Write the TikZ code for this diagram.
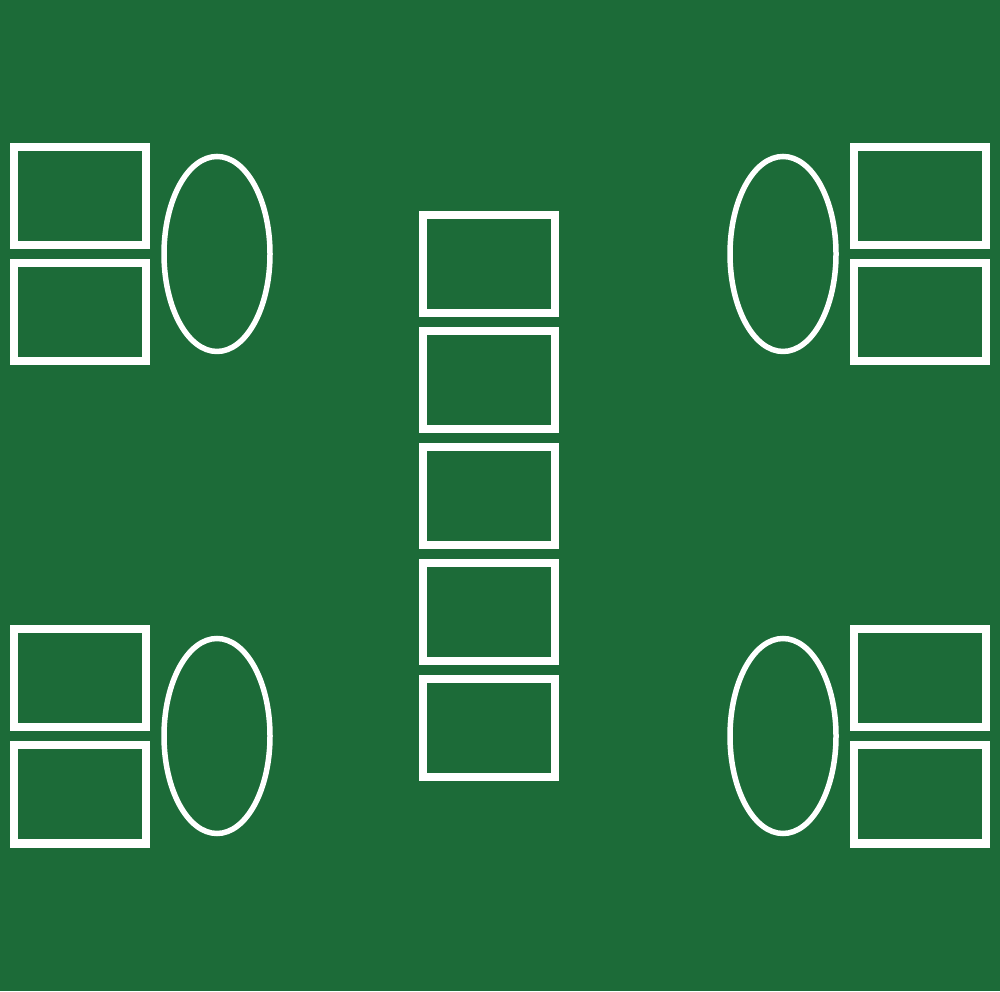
\documentclass[tikz,border=0pt]{standalone}
\usetikzlibrary{shapes}
\definecolor{felt}{RGB}{28,107,56}

\begin{document}
\begin{tikzpicture} [node distance=1.16cm, card/.style={rectangle, draw=white, line width=0.08cm, minimum width=1.32cm, minimum height=0.985cm, inner sep=0pt}, chip/.style={ellipse, draw=white, line width=0.055cm, minimum width=1.06cm, minimum height=1.95cm, inner sep=0pt}]
  \fill [felt] (0,0) rectangle (10,9.91);
  \useasboundingbox (0,0) rectangle (10,9.91);
  % Board cards
  \node [card] (flop1) at (4.89,7.2675) {};
  \node [card, below of=flop1] (flop2) {};
  \node [card, below of=flop2] (flop3) {};
  \node [card, below of=flop3] (turn) {};
  \node [card, below of=turn] (river) {};
  % Top left player
  \node [card] (tlcard1) at (0.80,7.9475) {};
  \node [card, below of=tlcard1] (tlcard2) {};
  \node [chip] (tlchip) at (2.17,7.37) {};
  % Bottom left player
  \node [card] (blcard1) at (0.80,3.1275) {};
  \node [card, below of=blcard1] (blcard2) {};
  \node [chip] (blchip) at (2.17,2.55) {};
  % Top right player
  \node [card] (trcard1) at (9.20,7.9475) {};
  \node [card, below of=trcard1] (trcard2) {};
  \node [chip] (trchip) at (7.83,7.37) {};
  % Bottom right player
  \node [card] (brcard1) at (9.20,3.1275) {};
  \node [card, below of=brcard1] (brcard2) {};
  \node [chip] (brchip) at (7.83,2.55) {};
\end{tikzpicture}
\end{document}
